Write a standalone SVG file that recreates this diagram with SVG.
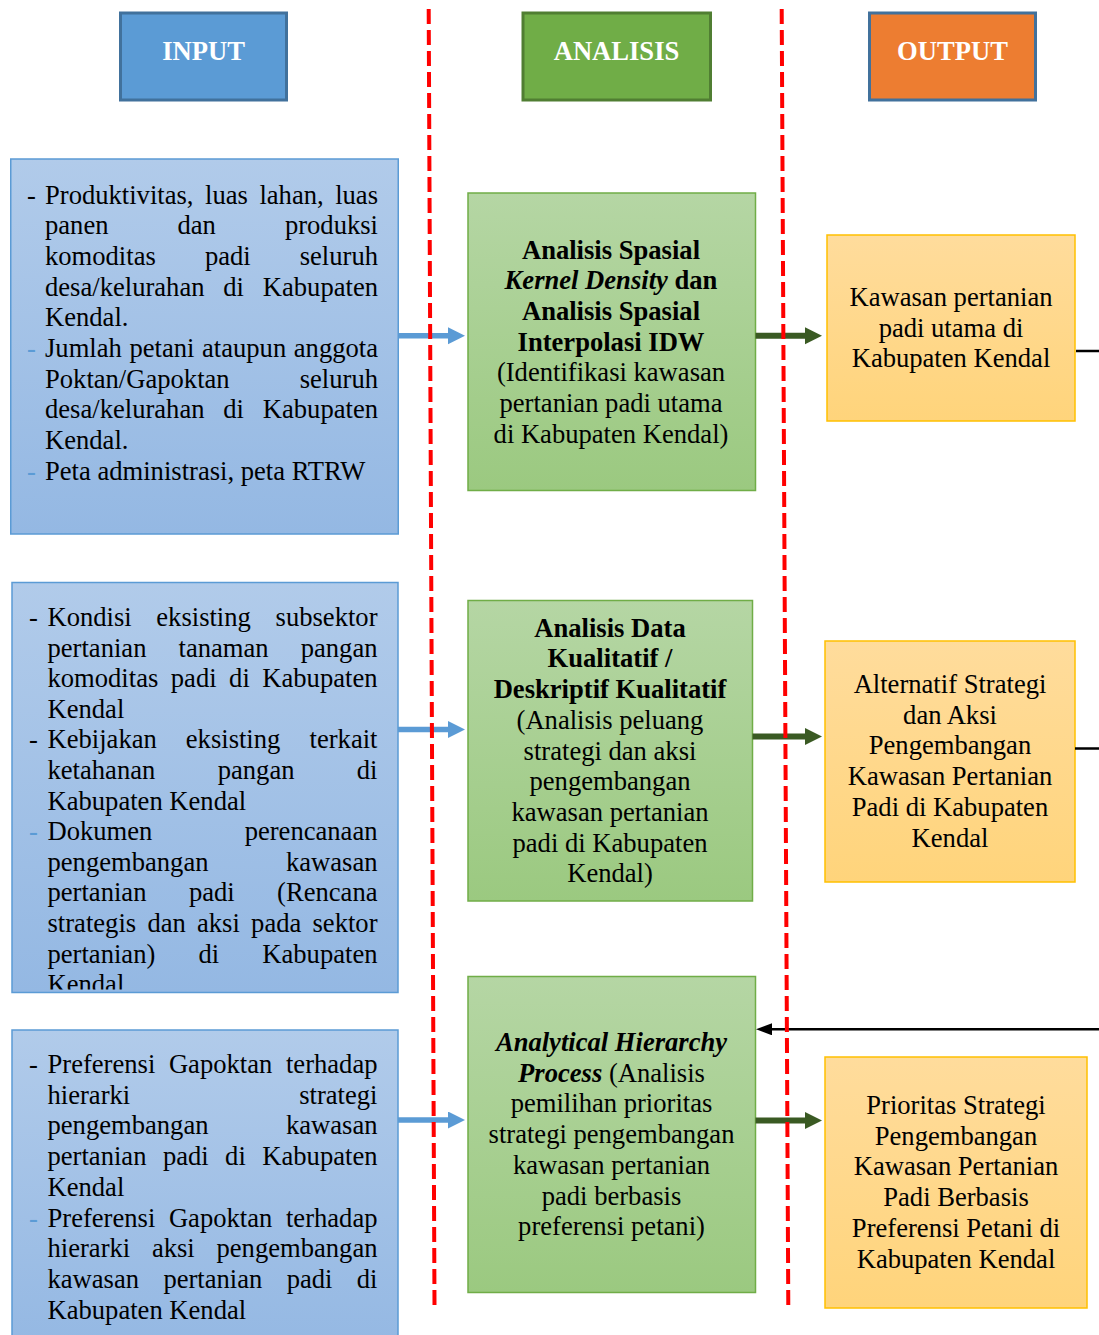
<svg xmlns="http://www.w3.org/2000/svg" width="1099" height="1335" viewBox="0 0 1099 1335">
<style>
.t{font-family:"Liberation Serif","Times New Roman",serif;font-size:26.6px;fill:#000}
.b{font-weight:bold}
.i{font-style:italic}
.e{text-anchor:end}
.m{text-anchor:middle}
.h{fill:#fff;font-weight:bold;text-anchor:middle}
.d2{fill:#5B9BD5}
.inbox{fill:url(#gBlue);stroke:#5B9BD5;stroke-width:1.5}
.anbox{fill:url(#gGreen);stroke:#70AD47;stroke-width:1.5}
.outbox{fill:url(#gOrange);stroke:#FFC000;stroke-width:1.5}
.hdr{stroke-width:3}
.ba{stroke:#5B9BD5;stroke-width:5.5;fill:none;marker-end:url(#mBlue)}
.ga{stroke:#3A5A23;stroke-width:6;fill:none;marker-end:url(#mGreen)}
.bl{stroke:#000;stroke-width:2.5;fill:none}
.red{stroke:#FF0000;stroke-width:4;stroke-dasharray:15 6;fill:none}
</style>
<defs>
<linearGradient id="gBlue" x1="0" y1="0" x2="0" y2="1"><stop offset="0" stop-color="#B1CBEA"/><stop offset="1" stop-color="#94B8E3"/></linearGradient>
<linearGradient id="gGreen" x1="0" y1="0" x2="0" y2="1"><stop offset="0" stop-color="#B5D6A4"/><stop offset="1" stop-color="#9BC980"/></linearGradient>
<linearGradient id="gOrange" x1="0" y1="0" x2="0" y2="1"><stop offset="0" stop-color="#FFDC9C"/><stop offset="1" stop-color="#FFD47B"/></linearGradient>
<marker id="mBlue" markerUnits="userSpaceOnUse" markerWidth="18" markerHeight="18" refX="1" refY="8.5" orient="auto"><path d="M0,0 L17,8.5 L0,17 z" fill="#5B9BD5"/></marker>
<marker id="mGreen" markerUnits="userSpaceOnUse" markerWidth="18" markerHeight="18" refX="1" refY="8.5" orient="auto"><path d="M0,0 L17,8.5 L0,17 z" fill="#3A5A23"/></marker>
<marker id="mBlack" markerUnits="userSpaceOnUse" markerWidth="17" markerHeight="13" refX="0" refY="6" orient="auto"><path d="M0,0 L16,6 L0,12 z" fill="#000"/></marker>
<clipPath id="clipIn2"><rect x="12" y="583" width="386" height="406.5"/></clipPath>
</defs>

<g id="hdr-input"><rect class="hdr" x="120.5" y="13" width="166" height="87" fill="#5B9BD5" stroke="#41719C"/><text class="t h" x="203.5" y="60">INPUT</text></g>
<g id="hdr-analisis"><rect class="hdr" x="523" y="13" width="187.5" height="87" fill="#70AD47" stroke="#507E32"/><text class="t h" x="616.5" y="60">ANALISIS</text></g>
<g id="hdr-output"><rect class="hdr" x="869.5" y="13" width="166" height="87" fill="#ED7D31" stroke="#41719C"/><text class="t h" x="952.5" y="60">OUTPUT</text></g>

<g id="input1">
<rect class="inbox" x="10.75" y="159" width="387.5" height="375"/>
<text class="t" x="27" y="203.5">-</text>
<text class="t" x="45" y="203.5">Produktivitas,</text><text class="t" x="205" y="203.5">luas</text><text class="t" x="259.4" y="203.5">lahan,</text><text class="t e" x="378" y="203.5">luas</text>
<text class="t" x="45" y="234.2">panen</text><text class="t" x="177.5" y="234.2">dan</text><text class="t e" x="378" y="234.2">produksi</text>
<text class="t" x="45" y="264.9">komoditas</text><text class="t" x="204.9" y="264.9">padi</text><text class="t e" x="378" y="264.9">seluruh</text>
<text class="t" x="45" y="295.6">desa/kelurahan</text><text class="t" x="223.3" y="295.6">di</text><text class="t e" x="378" y="295.6">Kabupaten</text>
<text class="t" x="45" y="326.3">Kendal.</text>
<text class="t d2" x="27" y="357">-</text>
<text class="t" x="45" y="357">Jumlah</text><text class="t" x="129.4" y="357">petani</text><text class="t" x="202" y="357">ataupun</text><text class="t e" x="378" y="357">anggota</text>
<text class="t" x="45" y="387.7">Poktan/Gapoktan</text><text class="t e" x="378" y="387.7">seluruh</text>
<text class="t" x="45" y="418.4">desa/kelurahan</text><text class="t" x="223.3" y="418.4">di</text><text class="t e" x="378" y="418.4">Kabupaten</text>
<text class="t" x="45" y="449.1">Kendal.</text>
<text class="t d2" x="27" y="479.8">-</text>
<text class="t" x="45" y="479.8">Peta administrasi, peta RTRW</text>
</g>

<g id="input2">
<rect class="inbox" x="12" y="582.5" width="386" height="410"/>
<g clip-path="url(#clipIn2)">
<text class="t" x="29" y="626">-</text>
<text class="t" x="47.5" y="626">Kondisi</text><text class="t" x="156.3" y="626">eksisting</text><text class="t e" x="377.5" y="626">subsektor</text>
<text class="t" x="47.5" y="656.6">pertanian</text><text class="t" x="178.5" y="656.6">tanaman</text><text class="t e" x="377.5" y="656.6">pangan</text>
<text class="t" x="47.5" y="687.2">komoditas</text><text class="t" x="170.8" y="687.2">padi</text><text class="t" x="229.1" y="687.2">di</text><text class="t e" x="377.5" y="687.2">Kabupaten</text>
<text class="t" x="47.5" y="717.8">Kendal</text>
<text class="t" x="29" y="748.4">-</text>
<text class="t" x="47.5" y="748.4">Kebijakan</text><text class="t" x="185.8" y="748.4">eksisting</text><text class="t e" x="377.5" y="748.4">terkait</text>
<text class="t" x="47.5" y="779">ketahanan</text><text class="t" x="217.7" y="779">pangan</text><text class="t e" x="377.5" y="779">di</text>
<text class="t" x="47.5" y="809.6">Kabupaten Kendal</text>
<text class="t d2" x="29" y="840.2">-</text>
<text class="t" x="47.5" y="840.2">Dokumen</text><text class="t e" x="377.5" y="840.2">perencanaan</text>
<text class="t" x="47.5" y="870.8">pengembangan</text><text class="t e" x="377.5" y="870.8">kawasan</text>
<text class="t" x="47.5" y="901.4">pertanian</text><text class="t" x="188.9" y="901.4">padi</text><text class="t e" x="377.5" y="901.4">(Rencana</text>
<text class="t" x="47.5" y="932">strategis</text><text class="t" x="147.4" y="932">dan</text><text class="t" x="197" y="932">aksi</text><text class="t" x="251.1" y="932">pada</text><text class="t e" x="377.5" y="932">sektor</text>
<text class="t" x="47.5" y="962.6">pertanian)</text><text class="t" x="198.5" y="962.6">di</text><text class="t e" x="377.5" y="962.6">Kabupaten</text>
<text class="t" x="47.5" y="993.2">Kendal</text>
</g>
</g>

<g id="input3">
<rect class="inbox" x="12" y="1030" width="386" height="320"/>
<text class="t" x="29" y="1073">-</text>
<text class="t" x="47.5" y="1073">Preferensi</text><text class="t" x="168.9" y="1073">Gapoktan</text><text class="t e" x="377.5" y="1073">terhadap</text>
<text class="t" x="47.5" y="1103.7">hierarki</text><text class="t e" x="377.5" y="1103.7">strategi</text>
<text class="t" x="47.5" y="1134.4">pengembangan</text><text class="t e" x="377.5" y="1134.4">kawasan</text>
<text class="t" x="47.5" y="1165.1">pertanian</text><text class="t" x="162.9" y="1165.1">padi</text><text class="t" x="225.1" y="1165.1">di</text><text class="t e" x="377.5" y="1165.1">Kabupaten</text>
<text class="t" x="47.5" y="1195.8">Kendal</text>
<text class="t d2" x="29" y="1226.5">-</text>
<text class="t" x="47.5" y="1226.5">Preferensi</text><text class="t" x="168.9" y="1226.5">Gapoktan</text><text class="t e" x="377.5" y="1226.5">terhadap</text>
<text class="t" x="47.5" y="1257.2">hierarki</text><text class="t" x="151.9" y="1257.2">aksi</text><text class="t e" x="377.5" y="1257.2">pengembangan</text>
<text class="t" x="47.5" y="1287.9">kawasan</text><text class="t" x="163.4" y="1287.9">pertanian</text><text class="t" x="286.7" y="1287.9">padi</text><text class="t e" x="377.5" y="1287.9">di</text>
<text class="t" x="47.5" y="1318.6">Kabupaten Kendal</text>
</g>

<g id="analisis1">
<rect class="anbox" x="468" y="193" width="287.5" height="297.5"/>
<text class="t m b" x="611" y="258.5">Analisis Spasial</text>
<text class="t m b" x="611" y="289.2"><tspan class="i">Kernel Density</tspan> dan</text>
<text class="t m b" x="611" y="319.9">Analisis Spasial</text>
<text class="t m b" x="611" y="350.6">Interpolasi IDW</text>
<text class="t m" x="611" y="381.3">(Identifikasi kawasan</text>
<text class="t m" x="611" y="412">pertanian padi utama</text>
<text class="t m" x="611" y="442.7">di Kabupaten Kendal)</text>
</g>

<g id="analisis2">
<rect class="anbox" x="468" y="600.5" width="284.5" height="300.5"/>
<text class="t m b" x="610" y="636.7">Analisis Data</text>
<text class="t m b" x="610" y="667.4">Kualitatif /</text>
<text class="t m b" x="610" y="698.1">Deskriptif Kualitatif</text>
<text class="t m" x="610" y="728.8">(Analisis peluang</text>
<text class="t m" x="610" y="759.5">strategi dan aksi</text>
<text class="t m" x="610" y="790.2">pengembangan</text>
<text class="t m" x="610" y="820.9">kawasan pertanian</text>
<text class="t m" x="610" y="851.6">padi di Kabupaten</text>
<text class="t m" x="610" y="882.3">Kendal)</text>
</g>

<g id="analisis3">
<rect class="anbox" x="468" y="976.5" width="287.5" height="316"/>
<text class="t m b i" x="611.5" y="1051">Analytical Hierarchy</text>
<text class="t m" x="611.5" y="1081.7"><tspan class="b i">Process</tspan> (Analisis</text>
<text class="t m" x="611.5" y="1112.4">pemilihan prioritas</text>
<text class="t m" x="611.5" y="1143.1">strategi pengembangan</text>
<text class="t m" x="611.5" y="1173.8">kawasan pertanian</text>
<text class="t m" x="611.5" y="1204.5">padi berbasis</text>
<text class="t m" x="611.5" y="1235.2">preferensi petani)</text>
</g>

<g id="output1">
<rect class="outbox" x="827" y="235" width="248" height="186"/>
<text class="t m" x="951" y="306">Kawasan pertanian</text>
<text class="t m" x="951" y="336.7">padi utama di</text>
<text class="t m" x="951" y="367.4">Kabupaten Kendal</text>
</g>

<g id="output2">
<rect class="outbox" x="825" y="641" width="250" height="241"/>
<text class="t m" x="950" y="693">Alternatif Strategi</text>
<text class="t m" x="950" y="723.7">dan Aksi</text>
<text class="t m" x="950" y="754.4">Pengembangan</text>
<text class="t m" x="950" y="785.1">Kawasan Pertanian</text>
<text class="t m" x="950" y="815.8">Padi di Kabupaten</text>
<text class="t m" x="950" y="846.5">Kendal</text>
</g>

<g id="output3">
<rect class="outbox" x="825" y="1057" width="262" height="251"/>
<text class="t m" x="956" y="1114">Prioritas Strategi</text>
<text class="t m" x="956" y="1144.7">Pengembangan</text>
<text class="t m" x="956" y="1175.4">Kawasan Pertanian</text>
<text class="t m" x="956" y="1206.1">Padi Berbasis</text>
<text class="t m" x="956" y="1236.8">Preferensi Petani di</text>
<text class="t m" x="956" y="1267.5">Kabupaten Kendal</text>
</g>

<g id="connectors">
<line class="ba" x1="398" y1="335.7" x2="449" y2="335.7"/>
<line class="ba" x1="398" y1="729.5" x2="449" y2="729.5"/>
<line class="ba" x1="398" y1="1120" x2="449" y2="1120"/>
<line class="ga" x1="755.5" y1="335.7" x2="806" y2="335.7"/>
<line class="ga" x1="752.5" y1="736.5" x2="806" y2="736.5"/>
<line class="ga" x1="755.5" y1="1120.5" x2="806" y2="1120.5"/>
<line class="bl" x1="1076" y1="351" x2="1099" y2="351"/>
<line class="bl" x1="1075" y1="748.5" x2="1099" y2="748.5"/>
<line class="bl" x1="1099" y1="1029.3" x2="772" y2="1029.3" marker-end="url(#mBlack)"/>
</g>

<g id="dividers">
<line class="red" x1="428.7" y1="9" x2="434.5" y2="1305"/>
<line class="red" x1="781.7" y1="9" x2="788.3" y2="1308"/>
</g>
</svg>
